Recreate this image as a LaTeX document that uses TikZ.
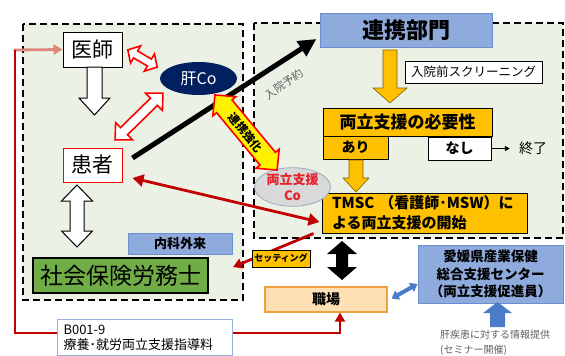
\documentclass[tikz,border=0pt]{standalone}
\usepackage{fontspec}
\setmainfont{Noto Sans CJK JP}
\usetikzlibrary{arrows.meta,shapes.geometric,calc}
\definecolor{lgreen}{HTML}{EBF1E5}
\definecolor{blueF}{HTML}{8FAADC}
\definecolor{blueD}{HTML}{6A8FD0}
\definecolor{orangeF}{HTML}{FFC000}
\definecolor{arrowD}{HTML}{7F6000}
\definecolor{greenF}{HTML}{70AD47}
\definecolor{navy}{HTML}{002060}
\definecolor{dred}{HTML}{C00000}
\definecolor{salmon}{HTML}{E0857A}
\definecolor{peach}{HTML}{FDE0B4}
\definecolor{peachD}{HTML}{F0A040}
\definecolor{greyF}{HTML}{D9D9D9}
\definecolor{greyD}{HTML}{9AA8C0}
\definecolor{txtgrey}{HTML}{606060}
\definecolor{cored}{HTML}{E8202A}
\definecolor{arrblue}{HTML}{4A7CC9}
\newcommand\fsz[2]{\fontsize{#1}{#2}\selectfont}
\tikzset{
  dashbox/.style={draw=black, line width=2.4pt, dash pattern=on 7pt off 4pt, fill=lgreen},
  box/.style={draw, inner sep=0pt, align=center},
  bluebox/.style={box, fill=blueF, draw=blueD, line width=1pt},
  orbox/.style={box, fill=orangeF, draw=black, line width=1pt},
  yarrow/.style={fill=orangeF, draw=arrowD, line width=0.6pt},
  redline/.style={draw=dred, line width=2.8pt, -{Triangle[length=9pt,width=10pt]}},
  redarr/.style={draw=red, fill=white, line width=1.6pt},
}
\begin{document}
\begin{tikzpicture}[x=1pt,y=-1pt,line join=miter]
\useasboundingbox (0,0) rectangle (565,356);
\fill[white] (0,0) rectangle (565,356);
% regions
\draw[dashbox] (23,24) rectangle (243,300);
\draw[dashbox] (254,23) rectangle (563,238);

% nodes
\node[box, fill=white, line width=1pt, minimum width=59, minimum height=35, font=\fsz{21}{24}] (ishi) at (92.5,49.5) {医師};
\node[box, fill=white, draw=red, line width=1pt, minimum width=59, minimum height=34, font=\fsz{21}{24}] (kanja) at (92.5,165) {患者};
\node[ellipse, fill=navy, inner sep=0pt, minimum width=77, minimum height=33, text=white, font=\fsz{16}{18}] (kanco) at (198.5,78.5) {肝Co};
\node[bluebox, minimum width=172, minimum height=34, font=\fsz{22}{24}\bfseries] (renkei) at (406,30) {連携部門};
\node[box, fill=white, line width=1pt, minimum width=137, minimum height=22, font=\fsz{12.5}{14}] (screen) at (473.5,72) {入院前スクリーニング};
\node[orbox, minimum width=169, minimum height=28, font=\fsz{17}{19}\bfseries] (hitsuyo) at (407.5,122) {両立支援の必要性};
\node[orbox, minimum width=65, minimum height=23, font=\fsz{14}{16}\bfseries] (ari) at (355.5,147.5) {あり};
\node[box, fill=white, line width=1pt, minimum width=63, minimum height=23, font=\fsz{14}{16}\bfseries] (nashi) at (459.5,148.5) {なし};
\node[inner sep=0pt, font=\fsz{14}{16}] (shuryo) at (533,148.5) {終了};
\node[orbox, minimum height=40, text width=185, inner xsep=10pt, align=left, font=\fsz{15}{20}\bfseries] (tmsc) at (424.5,213) {TMSC （看護師･MSW）に\\よる両立支援の開始};
\node[ellipse, fill=greyF, draw=greyD, line width=0.8pt, inner sep=0pt, minimum width=76, minimum height=37, text=cored, align=center, font=\fsz{13}{16}\bfseries] (ryoco) at (292.5,187) {両立支援\\Co};
\node[bluebox, minimum width=104, minimum height=21, font=\fsz{13}{15}\bfseries] (naika) at (180,243.5) {内科外来};
\node[box, fill=greenF, line width=1.2pt, minimum width=175, minimum height=35, font=\fsz{23}{25}] (sharo) at (120.5,275.5) {社会保険労務士};
\node[box, fill=peach, draw=peachD, line width=1.2pt, minimum width=122, minimum height=25, font=\fsz{14}{16}\bfseries] (shokuba) at (326,299.5) {職場};
\node[bluebox, minimum width=145, minimum height=58, font=\fsz{13.5}{17.5}\bfseries] (center) at (490.5,274) {愛媛県産業保健\\総合支援センター\\（両立支援促進員）};
\node[anchor=west, inner sep=0pt, align=left, text=txtgrey, font=\fsz{10}{15}] (info) at (440,342.5) {肝疾患に対する情報提供\\(セミナー開催)};

% block arrows
\draw[fill=white, line width=1pt] (87,67) -- (102,67) -- (102,98) -- (110,98) -- (94.5,115) -- (79,98) -- (87,98) -- cycle;
\draw[fill=white, line width=1pt] (77,185) -- (92.5,201) -- (84,201) -- (84,231) -- (92.5,231) -- (77,247) -- (61.5,231) -- (70,231) -- (70,201) -- (61.5,201) -- cycle;
\fill[black] (342,241) -- (357,254) -- (348,254) -- (348,267) -- (357,267) -- (342,280) -- (327,267) -- (336,267) -- (336,254) -- (327,254) -- cycle;
\draw[yarrow] (383,50) -- (397,50) -- (397,88) -- (407,88) -- (390,103) -- (373,88) -- (383,88) -- cycle;
\draw[yarrow] (349,160) -- (363,160) -- (363,178) -- (369,178) -- (356,192) -- (343,178) -- (349,178) -- cycle;
\fill[arrblue] (490,327) -- (505,327) -- (505,313) -- (512,313) -- (497.5,302) -- (483,313) -- (490,313) -- cycle;

% red double arrows (white)
\begin{scope}[shift={(142.5,58.5)}, rotate=-30.4]
\draw[redarr] (-17,0) -- (-8,10) -- (-8,4) -- (8,4) -- (8,10) -- (17,0) -- (8,-10) -- (8,-4) -- (-8,-4) -- (-8,-10) -- cycle;
\end{scope}
\begin{scope}[shift={(139,116.5)}, rotate=44.4]
\draw[redarr] (-33.5,0) -- (-21,12) -- (-21,5) -- (21,5) -- (21,12) -- (33.5,0) -- (21,-12) -- (21,-5) -- (-21,-5) -- (-21,-12) -- cycle;
\end{scope}

% black line
\draw[line width=5pt, -{Triangle[length=18pt,width=17pt]}] ($(kanja.east)+(10,-7)$) -- ($(renkei.west)+(-3,9)$);
\node[rotate=35, text=txtgrey, inner sep=0pt, font=\fsz{11}{12}] (nyuin) at (284,84) {入院予約};

% 連携強化
\begin{scope}[shift={(246,132.5)}, rotate=-50.4]
\draw[fill=yellow, draw=red, line width=1.6pt] (-48.7,0) -- (-34,15) -- (-34,10) -- (34,10) -- (34,15) -- (48.7,0) -- (34,-15) -- (34,-10) -- (-34,-10) -- (-34,-15) -- cycle;
\end{scope}
\node[rotate=-50.4, inner sep=0pt, font=\fsz{11.5}{13}\bfseries] (kyoka) at (246,132.5) {連携強化};

% other connectors
\draw[line width=1pt, shorten >=9pt, -{Triangle[length=5pt,width=5pt]}] (nashi.east) -- (shuryo.west);
\draw[draw=dred, line width=2.8pt, {Triangle[length=11pt,width=12pt]}-{Triangle[length=11pt,width=12pt]}] ($(kanja.east)+(10,13)$) -- ($(tmsc.west)+(-2,9)$);
\coordinate (setend) at (233,267);
\draw[redline] ($(tmsc.south west)+(-8,0)$) -- (setend);
\node[orbox, minimum width=58, minimum height=17, font=\fsz{9}{10}\bfseries] (setting) at (281,258.5) {セッティング};
\draw[draw=arrblue, line width=4pt, {Triangle[length=7pt,width=10pt]}-{Triangle[length=7pt,width=10pt]}] ($(shokuba.east)+(4,-1)$) -- ($(center.west)+(0,10)$);

% red L path
\coordinate (c1) at (15,50);
\coordinate (c2) at (15,333);
\coordinate (c3) at (340,333);
\draw[draw=salmon, line width=2.8pt, -{Triangle[length=9pt,width=10pt]}] ($(c1)+(-1.4,0)$) -- (ishi.west);
\draw[redline, line join=miter] (c1) -- (c2) -- (c3) -- (c3 |- shokuba.south);
\node[box, fill=white, draw=blueD!70, line width=1pt, anchor=north west, text width=163, inner xsep=6pt, inner ysep=5pt, align=left, font=\fsz{13}{15}] (bcode) at (57,319) {B001-9\\療養･就労両立支援指導料\\[8pt]};
\end{tikzpicture}
\end{document}
